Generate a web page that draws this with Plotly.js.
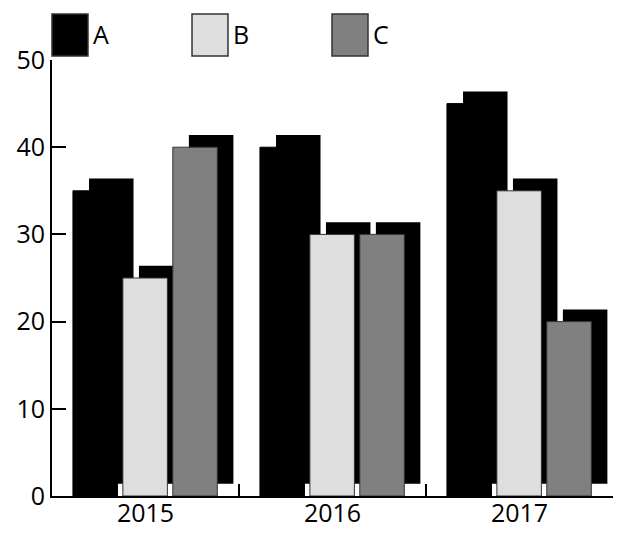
<!DOCTYPE html>
<html>
<head>
<meta charset="utf-8">
<script src="https://cdn.plot.ly/plotly-3.0.1.min.js"></script>
<style>
  body { margin: 0; background: #fff; }
  #chart { width: 631px; height: 533px; }
</style>
</head>
<body>
<div id="chart"></div>
<script>
/*** DATA ***/
var years = ['2015', '2016', '2017'];
var series_names = ['A', 'B', 'C'];
var values_a = [35, 40, 45];
var values_b = [25, 30, 35];
var values_c = [40, 30, 20];

/*** STYLE ***/
var fills = ['#000000', '#dedede', '#808080'];
var outlines = ['#000000', '#333333', '#333333'];
var bar_width = 0.238;       // in category units
var first_offset = -0.388;   // left edge of the first bar in a group
var slot = 0.267;            // distance between bars of a group
var shadow_dx = 0.086;       // shadow shift to the right (category units)
var shadow_dy = 1.4;         // shadow shift upward (value units)
var font_family = '"Open Sans", "Noto Sans", sans-serif';

var all_values = [values_a, values_b, values_c];

// shadows first so the bars sit on top of them
var traces = [];
all_values.forEach(function (vals, i) {
    traces.push({
        type: 'bar',
        x: years,
        y: vals,
        base: vals.map(function () { return shadow_dy; }),
        width: bar_width,
        offset: first_offset + i * slot + shadow_dx,
        marker: { color: '#000000', line: { width: 0 } },
        hoverinfo: 'skip',
        showlegend: false
    });
});
all_values.forEach(function (vals, i) {
    traces.push({
        type: 'bar',
        name: series_names[i],
        x: years,
        y: vals,
        width: bar_width,
        offset: first_offset + i * slot,
        marker: { color: fills[i], line: { color: outlines[i], width: 1 } },
        showlegend: false
    });
});

/*** hand made legend (big swatches) ***/
var legend_step = 140;
var shapes = [];
var annotations = [];
series_names.forEach(function (name, i) {
    shapes.push({
        type: 'rect',
        xref: 'paper', yref: 'paper',
        xsizemode: 'pixel', ysizemode: 'pixel',
        xanchor: 0, yanchor: 1,
        x0: i * legend_step, x1: i * legend_step + 36,
        y0: 4, y1: 46,
        fillcolor: fills[i],
        line: { color: '#333333', width: 1.5 }
    });
    annotations.push({
        xref: 'paper', yref: 'paper',
        x: 0, y: 1,
        xanchor: 'left', yanchor: 'middle',
        xshift: i * legend_step + 39, yshift: 26,
        text: name,
        showarrow: false,
        font: { family: font_family, size: 25, color: '#000' }
    });
});

var layout = {
    width: 631,
    height: 533,
    margin: { l: 52, r: 18, t: 60, b: 37, pad: 0 },
    paper_bgcolor: '#ffffff',
    plot_bgcolor: '#ffffff',
    barmode: 'overlay',
    showlegend: false,
    font: { family: font_family, size: 25, color: '#000' },
    xaxis: {
        type: 'category',
        range: [-0.5, 2.5],
        showgrid: false,
        zeroline: false,
        showline: true,
        linecolor: '#000',
        linewidth: 2,
        ticks: 'inside',
        tickson: 'boundaries',
        ticklen: 12,
        tickwidth: 2,
        tickcolor: '#000',
        ticklabelstandoff: -6,
        tickfont: { family: font_family, size: 25, color: '#000' }
    },
    yaxis: {
        range: [0, 50],
        tickvals: [0, 10, 20, 30, 40, 50],
        showgrid: false,
        zeroline: false,
        showline: true,
        linecolor: '#000',
        linewidth: 2,
        ticks: 'inside',
        ticklen: 14,
        tickwidth: 2,
        tickcolor: '#000',
        tickfont: { family: font_family, size: 25, color: '#000' }
    },
    shapes: shapes,
    annotations: annotations
};

Plotly.newPlot('chart', traces, layout, { staticPlot: true, displayModeBar: false });
</script>
</body>
</html>
